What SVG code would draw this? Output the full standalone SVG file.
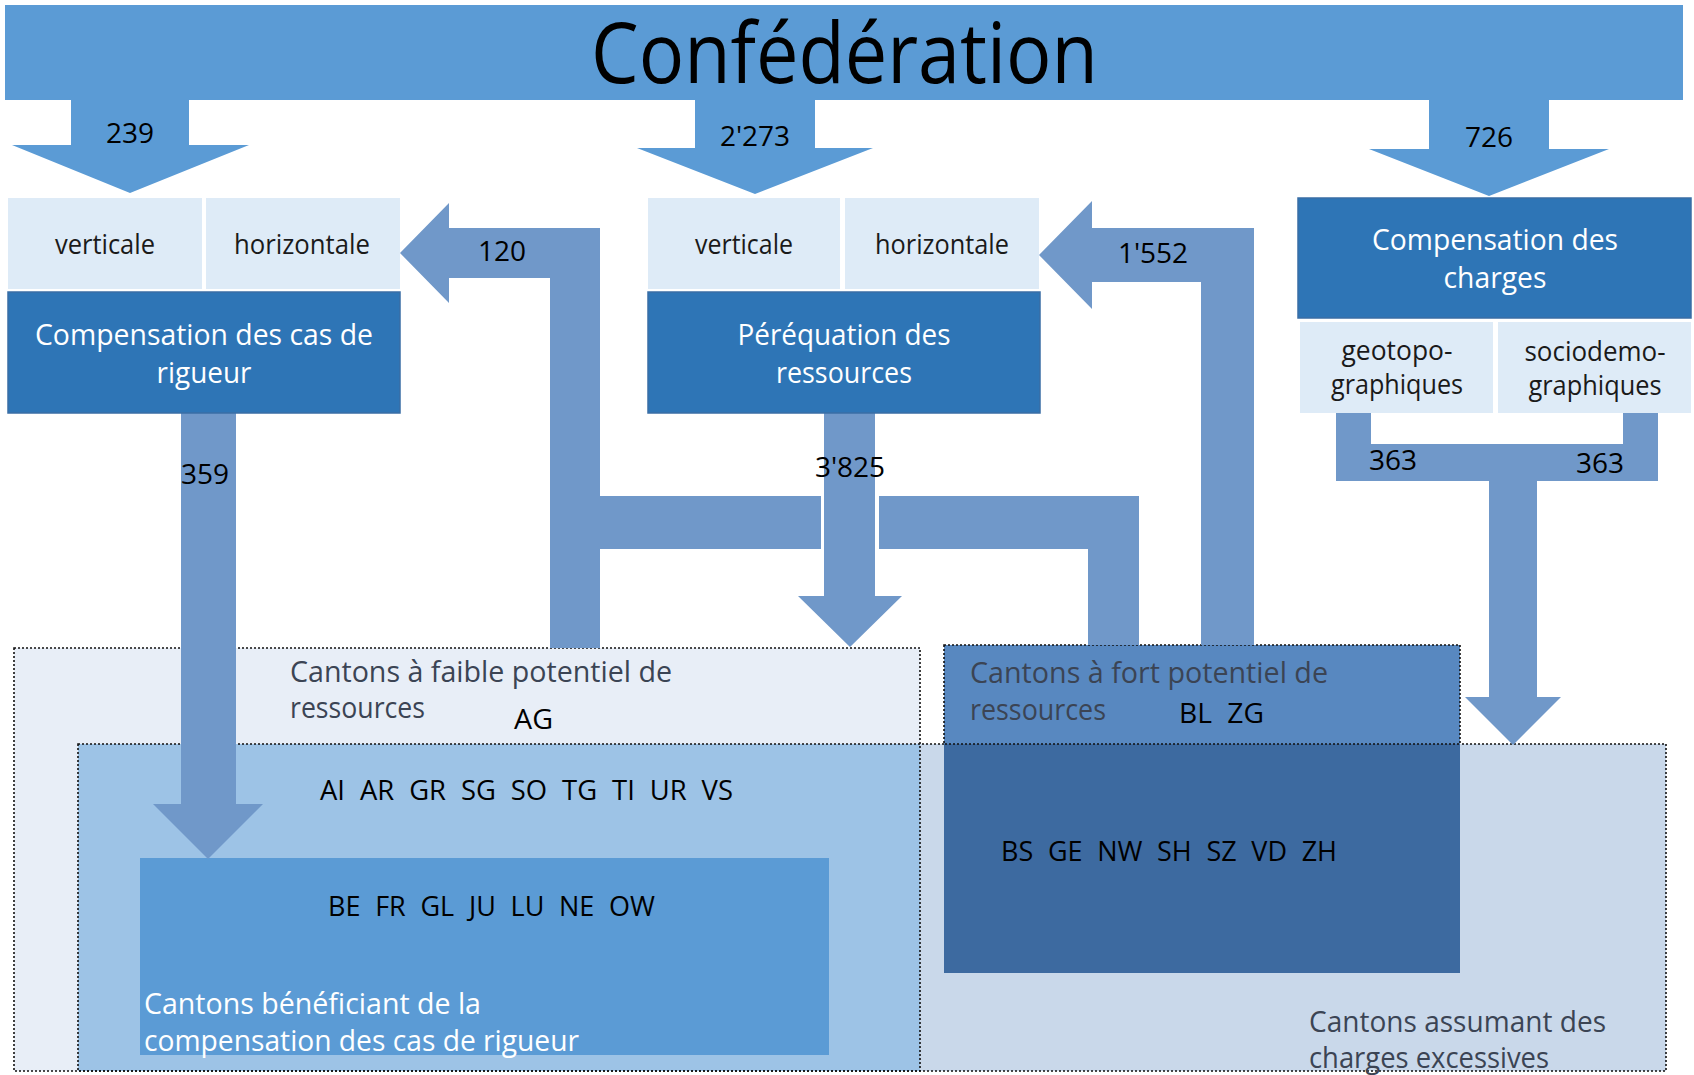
<svg xmlns="http://www.w3.org/2000/svg" width="1694" height="1075" viewBox="0 0 1694 1075">
<style>
text{font-family:"Open Sans","Noto Sans","DejaVu Sans",sans-serif;}
.title{font-size:84px;fill:#000;}
.num{font-size:28px;fill:#000;text-anchor:middle;}
.lbl{font-size:27px;fill:#1a1a1a;text-anchor:middle;}
.box{font-size:30px;fill:#fff;text-anchor:middle;}
.grp{font-size:30px;fill:#3b4454;}
.code{font-size:28px;fill:#000;word-spacing:8px;}
.wt{font-size:30px;fill:#fff;}
.light{fill:#deebf7;}
.dark{fill:#2e75b6;stroke:#3a6ea5;stroke-width:1.5;}
.flow{fill:#7098c9;}
.top{fill:#5b9bd5;}
.dot{fill:none;stroke:#111;stroke-width:1.6;stroke-dasharray:2 2;}
</style>

<!-- bottom areas -->
<g id="faible-potentiel">
  <rect x="14" y="648" width="906" height="423" fill="#e8eef7"/>
</g>
<g id="charges-excessives">
  <rect x="78" y="744" width="1588" height="327" fill="#c9d8ea"/>
  <rect x="78" y="744" width="842" height="327" fill="#9dc3e6"/>
  <rect x="14" y="648" width="906" height="423" class="dot"/>
  <rect x="78" y="744" width="1588" height="327" class="dot"/>
  <text class="grp" x="1309" y="1032" textLength="297" lengthAdjust="spacingAndGlyphs">Cantons assumant des</text>
  <text class="grp" x="1309" y="1068" textLength="240" lengthAdjust="spacingAndGlyphs">charges excessives</text>
</g>
<g id="faible-texts">
  <text class="grp" x="290" y="682" textLength="382" lengthAdjust="spacingAndGlyphs">Cantons à faible potentiel de</text>
  <text class="grp" x="290" y="718" textLength="135" lengthAdjust="spacingAndGlyphs">ressources</text>
  <text class="code" x="514" y="729" textLength="39" lengthAdjust="spacingAndGlyphs">AG</text>
  <text class="code" x="320" y="800" textLength="413" lengthAdjust="spacingAndGlyphs">AI AR GR SG SO TG TI UR VS</text>
</g>
<g id="fort-potentiel">
  <rect x="944" y="645" width="516" height="99" fill="#5888c0"/>
  <rect x="944" y="744" width="516" height="229" fill="#3d6aa0"/>
  <rect x="944" y="645" width="516" height="99" class="dot"/>
  <text class="grp" x="970" y="683" textLength="358" lengthAdjust="spacingAndGlyphs">Cantons à fort potentiel de</text>
  <text class="grp" x="970" y="720" textLength="136" lengthAdjust="spacingAndGlyphs">ressources</text>
  <text class="code" x="1179" y="723" textLength="85" lengthAdjust="spacingAndGlyphs">BL ZG</text>
  <text class="code" x="1001" y="861" textLength="336" lengthAdjust="spacingAndGlyphs">BS GE NW SH SZ VD ZH</text>
</g>
<g id="cas-rigueur-beneficiaires">
  <rect x="140" y="858" width="689" height="197" fill="#5b9bd5"/>
  <text class="code" x="328" y="916" textLength="327" lengthAdjust="spacingAndGlyphs">BE FR GL JU LU NE OW</text>
  <text class="wt" x="144" y="1014" textLength="337" lengthAdjust="spacingAndGlyphs">Cantons bénéficiant de la</text>
  <text class="wt" x="144" y="1051" textLength="435" lengthAdjust="spacingAndGlyphs">compensation des cas de rigueur</text>
</g>

<!-- Confédération -->
<g id="confederation">
  <rect x="5" y="5" width="1678" height="95" class="top"/>
  <text class="title" x="844.5" y="83" text-anchor="middle" textLength="507" lengthAdjust="spacingAndGlyphs">Confédération</text>
</g>

<!-- connectors -->
<g id="connectors">
  <polygon class="top" points="71,99 189,99 189,145 249,145 130,193 12,145 71,145"/>
  <polygon class="top" points="695,99 815,99 815,148 873,148 755,194 637,148 695,148"/>
  <polygon class="top" points="1429,99 1549,99 1549,149 1609,149 1489,196 1369,149 1429,149"/>
  <polygon class="flow" points="400,253 449,203 449,228 600,228 600,648 550,648 550,278 449,278 449,303"/>
  <rect class="flow" x="600" y="496" width="221" height="53"/>
  <polygon class="flow" points="879,496 1139,496 1139,645 1088,645 1088,549 879,549"/>
  <polygon class="flow" points="824,413 875,413 875,596 902,596 850,647 798,596 824,596"/>
  <polygon class="flow" points="1039,255 1092,201 1092,228 1254,228 1254,645 1201,645 1201,282 1092,282 1092,309"/>
  <polygon class="flow" points="181,413 236,413 236,804 263,804 208,859 153,804 181,804"/>
  <polygon class="flow" points="1336,413 1371,413 1371,444 1623,444 1623,413 1658,413 1658,481 1336,481"/>
  <polygon class="flow" points="1489,480 1537,480 1537,697 1561,697 1513,745 1465,697 1489,697"/>
  <text class="num" x="130" y="143">239</text>
  <text class="num" x="755" y="146">2'273</text>
  <text class="num" x="1489" y="147">726</text>
  <text class="num" x="502" y="261">120</text>
  <text class="num" x="1153" y="263">1'552</text>
  <text class="num" x="205" y="484">359</text>
  <text class="num" x="850" y="477">3'825</text>
  <text class="num" x="1393" y="470">363</text>
  <text class="num" x="1600" y="473">363</text>
</g>

<!-- nodes -->
<g id="cas-de-rigueur">
  <rect class="light" x="8" y="198" width="194" height="91"/>
  <rect class="light" x="206" y="198" width="194" height="91"/>
  <text class="lbl" x="105" y="254" textLength="100" lengthAdjust="spacingAndGlyphs">verticale</text>
  <text class="lbl" x="302" y="254" textLength="136" lengthAdjust="spacingAndGlyphs">horizontale</text>
  <rect class="dark" x="8" y="292" width="392" height="121"/>
  <text class="box" x="204" y="345" textLength="338" lengthAdjust="spacingAndGlyphs">Compensation des cas de</text>
  <text class="box" x="204" y="383" textLength="95" lengthAdjust="spacingAndGlyphs">rigueur</text>
</g>
<g id="perequation">
  <rect class="light" x="648" y="198" width="192" height="91"/>
  <rect class="light" x="845" y="198" width="194" height="91"/>
  <text class="lbl" x="744" y="254" textLength="98" lengthAdjust="spacingAndGlyphs">verticale</text>
  <text class="lbl" x="942" y="254" textLength="134" lengthAdjust="spacingAndGlyphs">horizontale</text>
  <rect class="dark" x="648" y="292" width="392" height="121"/>
  <text class="box" x="844" y="345" textLength="213" lengthAdjust="spacingAndGlyphs">Péréquation des</text>
  <text class="box" x="844" y="383" textLength="136" lengthAdjust="spacingAndGlyphs">ressources</text>
</g>
<g id="compensation-charges">
  <rect class="dark" x="1298" y="198" width="393" height="120"/>
  <text class="box" x="1495" y="250" textLength="246" lengthAdjust="spacingAndGlyphs">Compensation des</text>
  <text class="box" x="1495" y="288" textLength="103" lengthAdjust="spacingAndGlyphs">charges</text>
  <rect class="light" x="1300" y="322" width="193" height="91"/>
  <rect class="light" x="1498" y="322" width="193" height="91"/>
  <text class="lbl" x="1397" y="360" textLength="111" lengthAdjust="spacingAndGlyphs">geotopo-</text>
  <text class="lbl" x="1397" y="394" textLength="132" lengthAdjust="spacingAndGlyphs">graphiques</text>
  <text class="lbl" x="1595" y="361" textLength="141" lengthAdjust="spacingAndGlyphs">sociodemo-</text>
  <text class="lbl" x="1595" y="395" textLength="133" lengthAdjust="spacingAndGlyphs">graphiques</text>
</g>
</svg>
